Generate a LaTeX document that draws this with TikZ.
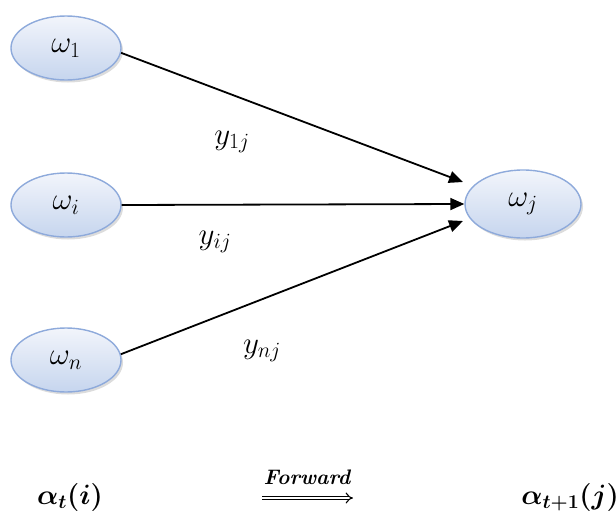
\RequirePackage{fix-cm}
\documentclass[tikz,border=0pt]{standalone}
\usepackage{amsmath,bm}
\usepackage{tikz}
\usetikzlibrary{positioning, arrows.meta, shadows, shapes.geometric}
\definecolor{edgeBlue}{HTML}{8EAADB}
\definecolor{topBlue}{HTML}{F2F5FB}
\definecolor{bottomBlue}{HTML}{C6D5EE}

\newcommand{\lblsize}{\fontsize{31}{36}\selectfont}
\newcommand{\alphasize}{\fontsize{28}{32}\selectfont}

\begin{document}
\begin{tikzpicture}[x=1pt, y=-1pt,
  state/.style={
    ellipse,
    draw=edgeBlue,
    line width=1.4pt,
    top color=topBlue,
    bottom color=bottomBlue,
    drop shadow={shadow xshift=2pt, shadow yshift=-2.5pt, fill=gray!55},
    minimum width=110pt,
    minimum height=64pt,
    font=\lblsize
  },
  link/.style={-{Triangle[length=14pt, width=12pt]}, line width=1.8pt},
  weight/.style={font=\lblsize}
]
\useasboundingbox (0,0) rectangle (616,517);

\node[state] (w1) at (66,48) {$\omega_1$};
\node[state] (wi) at (66,205) {$\omega_i$};
\node[state] (wn) at (66,360) {$\omega_n$};
\node[state, minimum width=116pt, minimum height=68pt] (wj) at (523,204) {$\omega_j$};

\coordinate (inTop) at (463,182);
\coordinate (inBot) at (463,221);

\draw[link] (w1.-5) -- (inTop);
\draw[link] (wi.east) -- (wj.west);
\draw[link] (wn.6) -- (inBot);

\node[weight] (y1j) at (232,142) {$y_{1j}$};
\node[weight] (yij) at (215,242) {$y_{ij}$};
\node[weight] (ynj) at (262,351) {$y_{nj}$};

% forward step
\node[font=\alphasize] (alphai) at (70,497) {$\bm{\alpha_t(i)}$};
\node[font=\fontsize{21}{24}\selectfont\bfseries\itshape] (fwd) at (307,477) {Forward};
\coordinate (fwdA) at (262,498);
\coordinate (fwdB) at (353,498);
\draw[double, double distance=2.6pt, line width=1.1pt, -{Implies}] (fwdA) -- (fwdB);
\node[font=\alphasize, anchor=east, inner xsep=0pt] (alphaj) at (619,497) {$\bm{\alpha_{t+1}(j)}$};

\end{tikzpicture}
\end{document}
